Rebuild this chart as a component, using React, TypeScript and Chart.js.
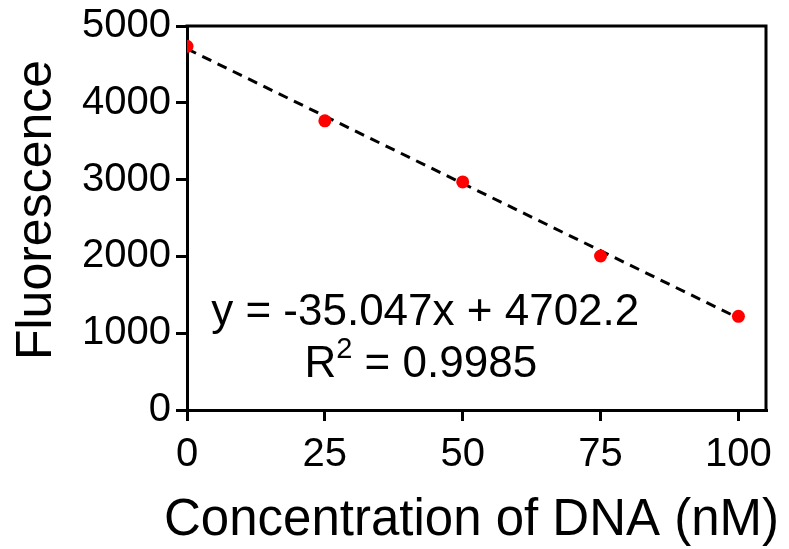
import React, { useEffect, useRef } from "react";
import { Chart, registerables } from "chart.js";

Chart.register(...registerables);

// ---- data ----
const concentrations = [0, 25, 50, 75, 100];
const fluorescence = [4735, 3765, 2970, 2005, 1220];
const fitX = [0, 100];
const fitY = [4702.2, 1197.5];
const xTicks = [0, 25, 50, 75, 100];
const yTicks = [0, 1000, 2000, 3000, 4000, 5000];
const equationText = "y = -35.047x + 4702.2";
const r2Label = "R";
const r2Sup = "2";
const r2Value = " = 0.9985";
const xTitle = "Concentration of DNA (nM)";
const yTitle = "Fluorescence";

const FONT = "'Liberation Sans', Arial, sans-serif";

const framePlugin = {
  id: "frame",
  afterDraw(chart: any) {
    const { ctx, chartArea } = chart;
    ctx.save();
    ctx.strokeStyle = "#000";
    ctx.lineWidth = 3;
    ctx.beginPath();
    ctx.moveTo(chartArea.left - 1.5, chartArea.top);
    ctx.lineTo(chartArea.right, chartArea.top);
    ctx.lineTo(chartArea.right, chartArea.bottom + 1.5);
    ctx.stroke();
    ctx.restore();
  },
};

const titlesPlugin = {
  id: "titles",
  afterDraw(chart: any) {
    const { ctx, chartArea, height } = chart;
    ctx.save();
    ctx.fillStyle = "#000";
    // x title
    ctx.font = `51px ${FONT}`;
    ctx.textAlign = "center";
    ctx.textBaseline = "alphabetic";
    ctx.fillText(xTitle, (chartArea.left + chartArea.right) / 2 - 5, height - 14);
    // y title
    ctx.font = `50px ${FONT}`;
    ctx.translate(51, (chartArea.top + chartArea.bottom) / 2 - 8);
    ctx.rotate(-Math.PI / 2);
    ctx.fillText(yTitle, 0, 0);
    ctx.restore();
  },
};

const annotationPlugin = {
  id: "eqn",
  afterDatasetsDraw(chart: any) {
    const { ctx } = chart;
    const xs = chart.scales.x;
    const ys = chart.scales.y;
    ctx.save();
    ctx.fillStyle = "#000";
    ctx.textBaseline = "alphabetic";
    const mainFont = `44px ${FONT}`;
    const supFont = `29px ${FONT}`;
    // line 1
    ctx.font = mainFont;
    ctx.textAlign = "center";
    const cx1 = xs.getPixelForValue(43.2);
    const by1 = ys.getPixelForValue(1107);
    ctx.fillText(equationText, cx1, by1);
    // line 2
    const cx2 = xs.getPixelForValue(42.4);
    const by2 = ys.getPixelForValue(430);
    ctx.textAlign = "left";
    ctx.font = mainFont;
    const wR = ctx.measureText(r2Label).width;
    const wV = ctx.measureText(r2Value).width;
    ctx.font = supFont;
    const wS = ctx.measureText(r2Sup).width;
    const total = wR + wS + wV;
    let x = cx2 - total / 2;
    ctx.font = mainFont;
    ctx.fillText(r2Label, x, by2);
    x += wR;
    ctx.font = supFont;
    ctx.fillText(r2Sup, x, by2 - 19);
    x += wS;
    ctx.font = mainFont;
    ctx.fillText(r2Value, x, by2);
    ctx.restore();
  },
};

export default function App() {
  const ref = useRef<HTMLCanvasElement>(null);
  useEffect(() => {
    if (!ref.current) return;
    const chart = new Chart(ref.current, {
      type: "scatter",
      data: {
        datasets: [
          {
            label: "points",
            data: concentrations.map((c, i) => ({ x: c, y: fluorescence[i] })),
            backgroundColor: "#ff0000",
            borderColor: "#ff0000",
            borderWidth: 0,
            pointRadius: 6.5,
            order: 0,
          },
          {
            label: "fit",
            data: fitX.map((c, i) => ({ x: c, y: fitY[i] })),
            showLine: true,
            borderColor: "#000",
            borderWidth: 3,
            borderDash: [10, 7],
            pointRadius: 0,
            order: 1,
          },
        ],
      },
      options: {
        responsive: false,
        animation: false,
        events: [],
        layout: { padding: { left: 0, right: 23, top: 26, bottom: 0 } },
        plugins: {
          legend: { display: false },
          tooltip: { enabled: false },
        },
        scales: {
          x: {
            type: "linear",
            min: 0,
            max: 105,
            afterBuildTicks: (s: any) => {
              s.ticks = xTicks.map((v) => ({ value: v }));
            },
            afterFit: (s: any) => {
              s.height = 139;
              s.paddingLeft = 0;
              s.paddingRight = 0;
            },
            border: { color: "#000", width: 3 },
            grid: {
              drawOnChartArea: false,
              drawTicks: true,
              tickLength: 11,
              color: "#000",
              lineWidth: 3,
            },
            ticks: {
              color: "#000",
              font: { family: FONT, size: 40 },
              padding: 10,
              maxRotation: 0,
              autoSkip: false,
              callback: (v: any) => String(v),
            },
            title: { display: false },
          },
          y: {
            type: "linear",
            min: 0,
            max: 5000,
            afterBuildTicks: (s: any) => {
              s.ticks = yTicks.map((v) => ({ value: v }));
            },
            afterFit: (s: any) => {
              s.width = 187;
              s.paddingTop = 0;
              s.paddingBottom = 0;
            },
            border: { color: "#000", width: 3 },
            grid: {
              drawOnChartArea: false,
              drawTicks: true,
              tickLength: 11,
              color: "#000",
              lineWidth: 3,
            },
            ticks: {
              color: "#000",
              font: { family: FONT, size: 40 },
              padding: 5,
              autoSkip: false,
              callback: (v: any) => String(v),
            },
            title: { display: false },
          },
        },
      },
      plugins: [framePlugin, titlesPlugin, annotationPlugin],
    } as any);
    return () => chart.destroy();
  }, []);
  return (
    <div style={{ position: "fixed", left: 0, top: 0, width: 789, height: 549, background: "#fff" }}>
      <canvas ref={ref} width={789} height={549} style={{ display: "block" }} />
    </div>
  );
}
